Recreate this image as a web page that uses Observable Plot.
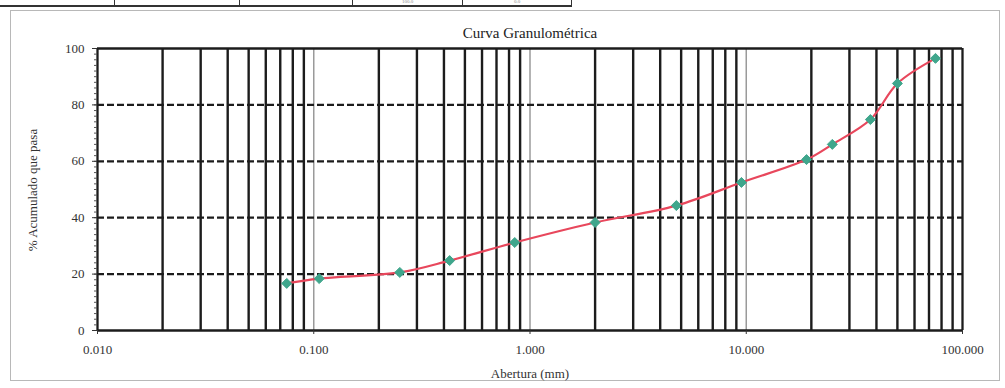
<!DOCTYPE html>
<html>
<head>
<meta charset="utf-8">
<script src="https://cdn.jsdelivr.net/npm/d3@7"></script>
<script src="https://cdn.jsdelivr.net/npm/@observablehq/plot@0.6"></script>
<style>
  html, body { margin: 0; padding: 0; background: #fff; }
  #wrap { position: relative; width: 1005px; height: 388px; overflow: hidden; font-family: "Liberation Serif", "DejaVu Serif", serif; color: #333; }
  #frame { position: absolute; left: 10px; top: 10px; width: 990px; height: 371px; border: 1.5px solid #b8b8b8; box-sizing: border-box; }
  #tbl { position: absolute; left: 0; top: 0; height: 7px; width: 572px; overflow: hidden; border-bottom: 2px solid #333; box-sizing: border-box; }
  .cell { position: absolute; top: 0; height: 7px; border-right: 1.5px solid #333; box-sizing: border-box; }
  .cell span { position: absolute; left: 0; right: 0; text-align: center; top: -1px; font-size: 5px; line-height: 5px; color: #888; }
  #title { position: absolute; left: 0; width: 1060px; top: 25px; text-align: center; font-size: 15px; color: #222; }
  #ylab { position: absolute; left: 33px; top: 190px; transform: translate(-50%, -50%) rotate(-90deg); font-size: 13px; white-space: nowrap; color: #333; }
  #xlab { position: absolute; left: 0; width: 1060px; top: 366px; text-align: center; font-size: 13px; color: #333; }
  #chart { position: absolute; left: 0; top: 0; }
</style>
</head>
<body>
<div id="wrap">
  <div id="frame"></div>
  <div id="tbl"></div>
  <div id="chart"></div>
  <div id="title"></div>
  <div id="ylab"></div>
  <div id="xlab"></div>
</div>
<script>
// ---- data ----
const sieveSizes = [75, 50, 37.5, 25, 19, 9.5, 4.75, 2.0, 0.85, 0.425, 0.25, 0.106, 0.075];
const percentPassing = [96.5, 87.6, 74.8, 66.0, 60.6, 52.5, 44.3, 38.3, 31.2, 24.8, 20.6, 18.4, 16.7];
const xTicks = [0.01, 0.1, 1, 10, 100];
const yTicks = [0, 20, 40, 60, 80, 100];
const titleText = "Curva Granulométrica";
const xLabel = "Abertura (mm)";
const yLabel = "% Acumulado que pasa";
const tableEdges = [0, 115, 240, 353, 463, 572];
const tableTexts = ["", "", "", "100.0", "0.0"];

document.getElementById("title").textContent = titleText;
document.getElementById("xlab").textContent = xLabel;
document.getElementById("ylab").textContent = yLabel;

const tbl = document.getElementById("tbl");
for (let i = 0; i < tableTexts.length; i++) {
  const c = document.createElement("div");
  c.className = "cell";
  c.style.left = tableEdges[i] + "px";
  c.style.width = (tableEdges[i + 1] - tableEdges[i]) + "px";
  const s = document.createElement("span");
  s.textContent = tableTexts[i];
  c.appendChild(s);
  tbl.appendChild(c);
}

const data = sieveSizes.map((s, i) => ({size: s, pass: percentPassing[i]}))
  .sort((a, b) => a.size - b.size);

// grid values on log scale
const decades = [0.01, 0.1, 1, 10];
const minorX = [];
for (const d of decades) for (let k = 2; k <= 9; k++) minorX.push(+(d * k).toPrecision(3));
const majorX = [0.1, 1, 10];
const edgeX = [0.01, 100];
const gridY = [20, 40, 60, 80];
const edgeY = [0, 100];
const minorY = d3.range(0, 101, 2);

const chart = Plot.plot({
  width: 1005,
  height: 388,
  marginLeft: 97,
  marginRight: 43,
  marginTop: 48,
  marginBottom: 58,
  style: {fontFamily: "Liberation Serif, serif", fontSize: "13px", color: "#333", background: "transparent"},
  x: {type: "log", domain: [0.01, 100], label: null},
  y: {domain: [0, 100], label: null},
  marks: [
    Plot.ruleX(majorX, {stroke: "#9a9a9a", strokeWidth: 1.5}),
    Plot.ruleX(minorX, {stroke: "#1c1c1c", strokeWidth: 2.4}),
    Plot.ruleY(gridY, {stroke: "#1c1c1c", strokeWidth: 2.3, strokeDasharray: "7,3"}),
    Plot.ruleY(edgeY, {stroke: "#1c1c1c", strokeWidth: 2.3}),
    Plot.ruleX(edgeX, {stroke: "#1c1c1c", strokeWidth: 2.3}),
    Plot.axisY({ticks: minorY, tickSize: 3, text: null, label: null, stroke: "#555"}),
    Plot.axisY({ticks: yTicks, tickSize: 5, tickPadding: 8, label: null, fontSize: 13}),
    Plot.axisX({ticks: xTicks, tickSize: 4, tickPadding: 10, label: null, tickFormat: d => d.toFixed(3), fontSize: 13}),
    Plot.line(data, {x: "size", y: "pass", stroke: "#e8475c", strokeWidth: 2.2, curve: "catmull-rom"}),
    Plot.dot(data, {x: "size", y: "pass", symbol: "diamond2", r: 4.5, fill: "#3fa68c", stroke: "#3fa68c", strokeWidth: 1})
  ]
});
document.getElementById("chart").appendChild(chart);
</script>
</body>
</html>
